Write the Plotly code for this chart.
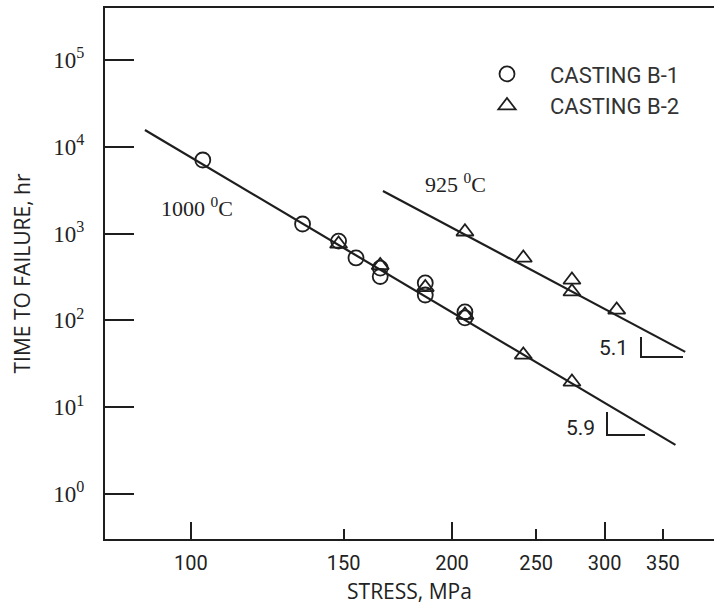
import plotly.graph_objects as go
import numpy as np

# ---- data ----
b1_stress = [103.2, 134.5, 148, 155, 165.3, 165.3, 186.3, 186.3, 207, 207]
b1_time = [7050, 1290, 820, 524, 400, 320, 270, 196, 125, 107]

b2_1000_stress = [148, 165.3, 186.3, 207, 241.7, 275]
b2_1000_time = [760, 430, 240, 115, 40, 19.5]

b2_925_stress = [207, 241.7, 275, 275, 309.7]
b2_925_time = [1050, 524, 292, 214, 132]

fit_1000_stress = [88.5, 362]
fit_1000_time = [15600, 3.67]
fit_925_stress = [166.5, 371.5]
fit_925_time = [3095, 43.3]

x_major_ticks = [100, 200, 300]
x_minor_ticks = [150, 250, 350]
x_tick_labels = ["100", "150", "200", "250", "300", "350"]
y_ticks = [1, 10, 100, 1000, 10000, 100000]
y_tick_labels = ["10<sup>0</sup>", "10<sup>1</sup>", "10<sup>2</sup>",
                 "10<sup>3</sup>", "10<sup>4</sup>", "10<sup>5</sup>"]

INK = "#1e1e1e"
SANS = "Open Sans, DejaVu Sans, sans-serif"
NARROW = "Roboto, DejaVu Sans, sans-serif"
SERIF = "Liberation Serif, DejaVu Serif, serif"

fig = go.Figure()

fig.add_trace(go.Scatter(x=fit_1000_stress, y=fit_1000_time, mode="lines",
                         line=dict(color=INK, width=2.2), showlegend=False))
fig.add_trace(go.Scatter(x=fit_925_stress, y=fit_925_time, mode="lines",
                         line=dict(color=INK, width=2.2), showlegend=False))

fig.add_trace(go.Scatter(x=b1_stress, y=b1_time, mode="markers", name="CASTING B-1",
                         marker=dict(symbol="circle-open", size=15, color=INK,
                                     line=dict(width=1.8, color=INK))))
fig.add_trace(go.Scatter(x=b2_1000_stress + b2_925_stress,
                         y=b2_1000_time + b2_925_time, mode="markers", name="CASTING B-2",
                         marker=dict(symbol="triangle-up-open", size=15, color=INK,
                                     line=dict(width=1.8, color=INK))))

# secondary x axis only for the longer tick marks
fig.add_trace(go.Scatter(x=[100], y=[1], xaxis="x2", mode="markers",
                         marker=dict(opacity=0), showlegend=False, hoverinfo="skip"))

xr = [np.log10(79.6), np.log10(401)]
yr = [-0.52, 5.6]

all_x = sorted(x_major_ticks + x_minor_ticks)
fig.update_layout(
    width=714, height=605,
    margin=dict(l=105, r=0, t=8, b=66),
    paper_bgcolor="white", plot_bgcolor="white",
    showlegend=True,
    legend=dict(x=0.5895, y=0.915, xanchor="left", yanchor="top",
                font=dict(family=NARROW, size=22, color="#333"),
                itemwidth=76, tracegroupgap=0, bgcolor="rgba(0,0,0,0)"),
    xaxis=dict(type="log", range=xr, showgrid=False, zeroline=False,
               showline=True, linecolor=INK, linewidth=2, mirror=True,
               tickmode="array", tickvals=all_x, ticktext=x_tick_labels,
               ticks="inside", ticklen=10, tickwidth=2, tickcolor=INK,
               ticklabelstandoff=5,
               tickfont=dict(family=NARROW, size=20, color="#222"),
               title=dict(text="STRESS, MPa", font=dict(family=SANS, size=21, color="#222"),
                          standoff=12)),
    xaxis2=dict(type="log", range=xr, overlaying="x", side="bottom", anchor="y",
                showgrid=False, zeroline=False, showline=False,
                tickmode="array", tickvals=x_major_ticks, showticklabels=False,
                ticks="inside", ticklen=17, tickwidth=2, tickcolor=INK),
    yaxis=dict(type="log", range=yr, showgrid=False, zeroline=False,
               showline=True, linecolor=INK, linewidth=2,
               tickmode="array", tickvals=y_ticks, ticktext=y_tick_labels,
               ticks="inside", ticklen=29, tickwidth=2, tickcolor=INK,
               ticklabelstandoff=14,
               tickfont=dict(family=SERIF, size=23, color="#222"),
               title=dict(text="TIME TO FAILURE, hr", font=dict(family=SANS, size=21, color="#222"),
                          standoff=17)),
)

def px_to_paper(px, py):
    return (px - 105) / (714 - 105), (539 - py) / (539 - 8)

notes = [
    ("1000 <sup>0</sup>C", 197, 207, SERIF, 22),
    ("925 <sup>0</sup>C", 455, 183, SERIF, 22),
    ("5.1", 613, 348, NARROW, 21),
    ("5.9", 580, 428, NARROW, 21),
]
for txt, px, py, fam, sz in notes:
    ax, ay = px_to_paper(px, py)
    fig.add_annotation(x=ax, y=ay, xref="paper", yref="paper", text=txt,
                       xanchor="center", yanchor="middle",
                       showarrow=False, font=dict(family=fam, size=sz, color="#222"))

# slope brackets
for (vx, ytop, ybot, hx) in [(641, 337, 357, 683), (607, 412, 435, 645)]:
    x0, y0 = px_to_paper(vx, ytop)
    x1, y1 = px_to_paper(vx, ybot)
    x2, _ = px_to_paper(hx, ybot)
    fig.add_shape(type="path", xref="paper", yref="paper",
                  path=f"M {x0} {y0} L {x1} {y1} L {x2} {y1}",
                  line=dict(color=INK, width=2))

fig.write_html("out.html", config={"displayModeBar": False},
               post_script="document.body.style.margin='0';document.body.style.overflow='hidden';")
